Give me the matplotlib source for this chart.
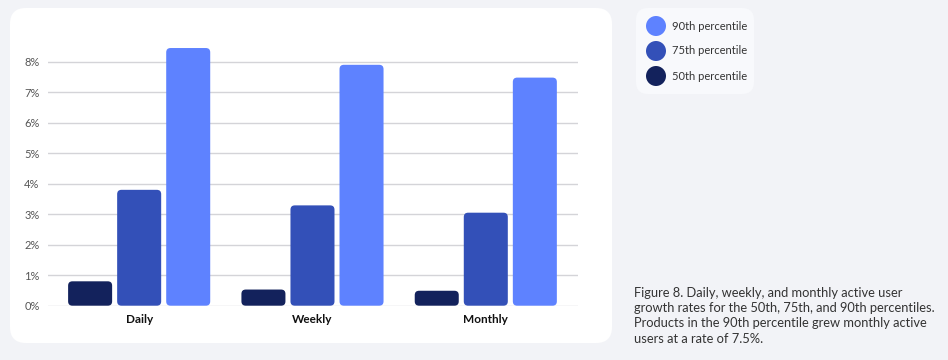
import numpy as np
import matplotlib.pyplot as plt
from matplotlib.patches import FancyBboxPatch, Circle
from matplotlib.transforms import IdentityTransform

plt.rcParams['font.family'] = ['Lato', 'DejaVu Sans']

# data
periods = ['Daily', 'Weekly', 'Monthly']
series = ['50th percentile', '75th percentile', '90th percentile']
p50 = [0.80, 0.53, 0.49]
p75 = [3.80, 3.29, 3.05]
p90 = [8.45, 7.90, 7.48]
yticks = [0, 1, 2, 3, 4, 5, 6, 7, 8]
colors = ['#13225c', '#3350b8', '#5e82ff']
caption = ("Figure 8. Daily, weekly, and monthly active user\n"
           "growth rates for the 50th, 75th, and 90th percentiles.\n"
           "Products in the 90th percentile grew monthly active\n"
           "users at a rate of 7.5%.")

fig = plt.figure(figsize=(9.48, 3.6), dpi=100)
fig.patch.set_facecolor('#f2f3f7')

# white chart panel and legend card (pixel coords), behind the axes
px = IdentityTransform()
fig.patches.append(FancyBboxPatch((10, 17), 602, 335, boxstyle='round,pad=0,rounding_size=16',
                                  transform=px, facecolor='white', edgecolor='none', zorder=-10))
fig.patches.append(FancyBboxPatch((636, 266), 118, 86, boxstyle='round,pad=0,rounding_size=12',
                                  transform=px, facecolor='#f8f9fc', edgecolor='none', zorder=-10))

ax = fig.add_axes([48 / 948, 54.3 / 360, 530 / 948, 0.72])
ax.set_facecolor('none')

x = np.arange(len(periods))
step = 0.283
width = 0.254
vals = [p50, p75, p90]
asp = (4 / 30.5) / (4 / 173)
for i, (v, c) in enumerate(zip(vals, colors)):
    for xi, h in zip(x + (i - 1) * step, v):
        ax.add_patch(FancyBboxPatch((xi - width / 2, 0), width, h,
                                    boxstyle='round,pad=0,rounding_size=0.025',
                                    mutation_aspect=asp, facecolor=c, edgecolor='none',
                                    zorder=3, clip_on=False))

ax.set_xlim(-0.526, 2.532)
ax.set_ylim(0, 8.5)
ax.set_yticks(yticks)
ax.set_yticklabels([f'{t}%' for t in yticks], fontsize=8, color='#555555')
ax.set_xticks(x)
ax.set_xticklabels(periods, fontsize=8.5, fontweight='bold', color='#111111')
ax.tick_params(length=0)
ax.tick_params(axis='y', pad=6)
ax.tick_params(axis='x', pad=6)
ax.grid(axis='y', color='#d4d4d8', linewidth=1, zorder=0)
ax.set_axisbelow(True)
for s in ax.spines.values():
    s.set_visible(False)

# legend
for k, (name, c) in enumerate(zip(series[::-1], colors[::-1])):
    ycen = 360 - (26 + k * 25)
    fig.patches.append(Circle((656, ycen), 10, transform=px, facecolor=c, edgecolor='none'))
    fig.text(672 / 948, ycen / 360, name, fontsize=8, color='#333333', va='center')

fig.text(634 / 948, (360 - 287) / 360, caption, fontsize=9.3, color='#333333',
         va='top', linespacing=1.32)

fig.savefig('out.png', dpi=100, facecolor=fig.get_facecolor())
